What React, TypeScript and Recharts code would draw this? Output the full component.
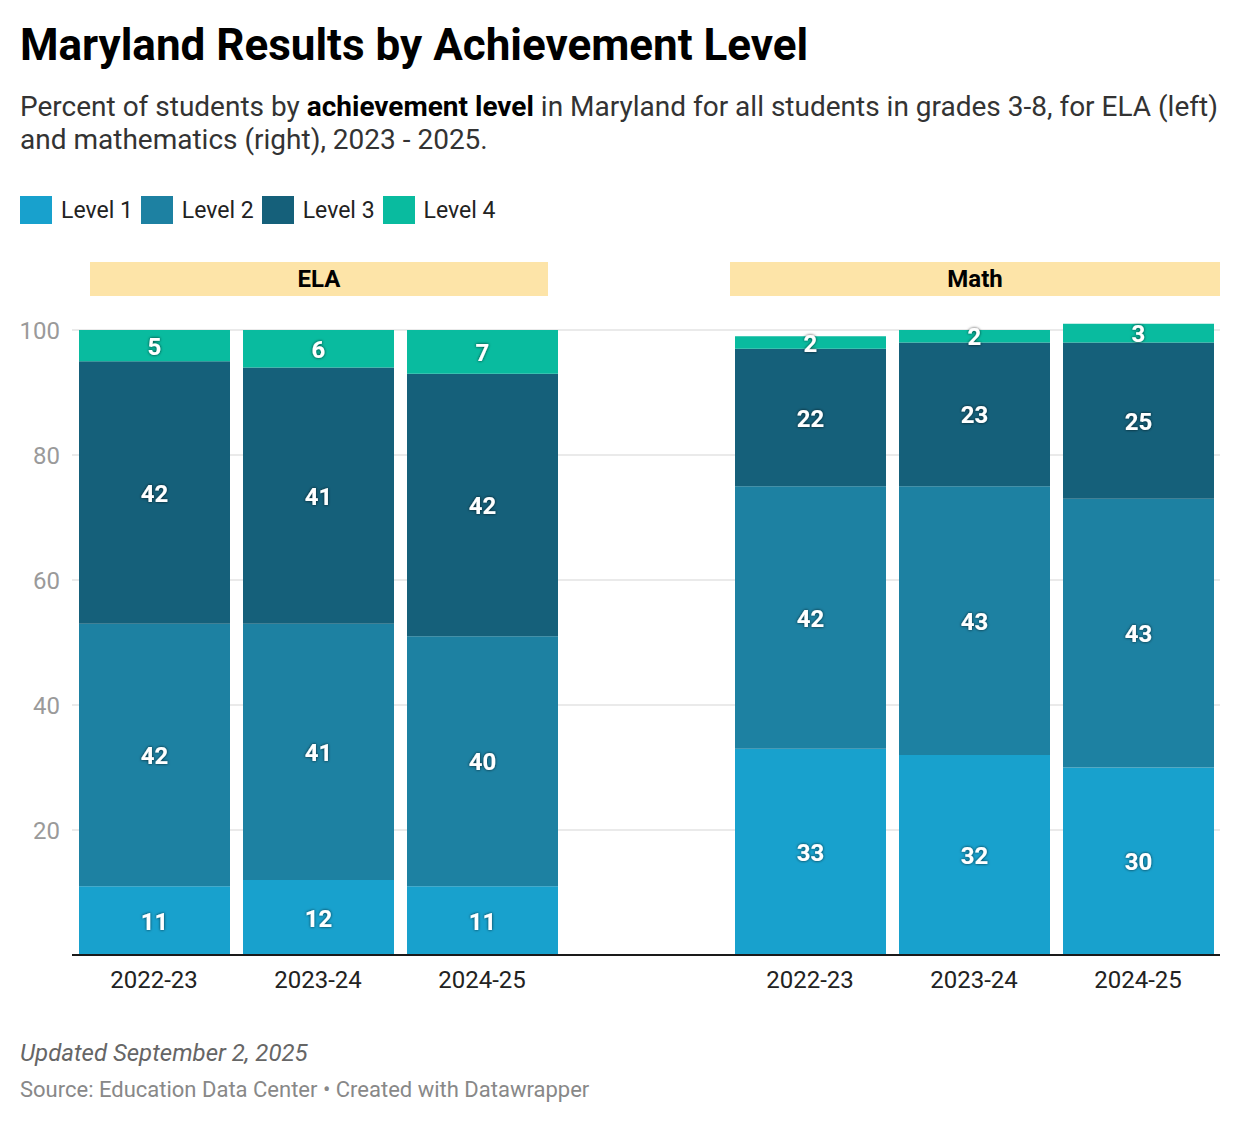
import React from "react";
import { BarChart, Bar, XAxis, YAxis, CartesianGrid, LabelList } from "recharts";

// school years shown in each panel
const years = ["2022-23", "2023-24", "2024-25"];

// percent of students by level, ELA panel
const elaLevel1 = [11, 12, 11];
const elaLevel2 = [42, 41, 40];
const elaLevel3 = [42, 41, 42];
const elaLevel4 = [5, 6, 7];

// percent of students by level, Math panel
const mathLevel1 = [33, 32, 30];
const mathLevel2 = [42, 43, 43];
const mathLevel3 = [22, 23, 25];
const mathLevel4 = [2, 2, 3];

const yTicks = [20, 40, 60, 80, 100];

const levels = [
  { key: "l1", name: "Level 1", color: "#18a1cd" },
  { key: "l2", name: "Level 2", color: "#1d81a2" },
  { key: "l3", name: "Level 3", color: "#15607a" },
  { key: "l4", name: "Level 4", color: "#09bb9f" },
];

type Row = { id: string; year: string; l1?: number; l2?: number; l3?: number; l4?: number };

const data: Row[] = [
  ...years.map((y, i) => ({ id: "ela-" + y, year: y, l1: elaLevel1[i], l2: elaLevel2[i], l3: elaLevel3[i], l4: elaLevel4[i] })),
  { id: "spacer", year: "" },
  ...years.map((y, i) => ({ id: "math-" + y, year: y, l1: mathLevel1[i], l2: mathLevel2[i], l3: mathLevel3[i], l4: mathLevel4[i] })),
];

const yearById: Record<string, string> = Object.fromEntries(data.map((d) => [d.id, d.year]));

const SegmentLabel = (props: any) => {
  const { x, y, width, height, value } = props;
  if (value == null) return null;
  return (
    <text
      x={x + width / 2}
      y={y + height / 2 + 1}
      textAnchor="middle"
      dominantBaseline="central"
      fill="#fff"
      fontSize={24}
      fontWeight={700}
      filter="url(#labelShadow)"
    >
      {value}
    </text>
  );
};

// skip the grid line that sits on the top edge of the plot (not a tick)
const GridLine = (p: any) => {
  if (Math.abs(p.y1 - p.y) < 1) return <g key={p.key} />;
  return <line key={p.key} x1={p.x1} x2={p.x2} y1={p.y1} y2={p.y2} stroke="#e3e3e3" strokeWidth={1.5} />;
};

const font = "Roboto, 'Noto Sans', sans-serif";

export default function App() {
  return (
    <div style={{ position: "absolute", left: 0, top: 0, width: 1240, height: 1124, background: "#fff", fontFamily: font, color: "#222" }}>
      <svg width={0} height={0} style={{ position: "absolute" }}>
        <defs>
          <filter id="labelShadow" x="-50%" y="-50%" width="200%" height="200%">
            <feDropShadow dx="0" dy="0" stdDeviation="1.6" floodColor="#000" floodOpacity="0.75" />
          </filter>
        </defs>
      </svg>

      <div style={{ position: "absolute", left: 20, top: 20, fontSize: 44, lineHeight: "50px", fontWeight: 700, color: "#000" }}>
        Maryland Results by Achievement Level
      </div>
      <div style={{ position: "absolute", left: 20, top: 90, width: 1215, fontSize: 28, lineHeight: "33px", color: "#333", whiteSpace: "nowrap" }}>
        Percent of students by <b style={{ color: "#000" }}>achievement level</b> in Maryland for all students in grades 3-8, for ELA (left)
        <br />
        and mathematics (right), 2023 - 2025.
      </div>

      <div style={{ position: "absolute", left: 20, top: 196, display: "flex", alignItems: "center", height: 28 }}>
        {levels.map((l) => (
          <div key={l.key} style={{ display: "flex", alignItems: "center", marginRight: 8 }}>
            <div style={{ width: 32, height: 28, background: l.color, marginRight: 9 }} />
            <span style={{ fontSize: 23, color: "#222" }}>{l.name}</span>
          </div>
        ))}
      </div>

      <div style={{ position: "absolute", left: 90, top: 262, width: 458, height: 34, background: "#fde4a8", textAlign: "center", lineHeight: "34px", fontSize: 24, fontWeight: 700, color: "#000" }}>
        ELA
      </div>
      <div style={{ position: "absolute", left: 730, top: 262, width: 490, height: 34, background: "#fde4a8", textAlign: "center", lineHeight: "34px", fontSize: 24, fontWeight: 700, color: "#000" }}>
        Math
      </div>

      <div style={{ position: "absolute", left: 0, top: 250 }}>
        <BarChart width={1240} height={760} data={data} margin={{ top: 48.75, right: 20, left: 0, bottom: 15 }} barSize={151}>
          <CartesianGrid vertical={false} horizontal={GridLine} />
          <YAxis
            type="number"
            domain={[0, 105]}
            ticks={yTicks}
            width={72}
            axisLine={false}
            tickLine={false}
            tickMargin={6}
            tick={{ fill: "#9a9a9a", fontSize: 24, fontFamily: font }}
            interval={0}
          />
          <XAxis
            dataKey="id"
            type="category"
            height={40}
            interval={0}
            tickFormatter={(v: string) => yearById[v] ?? ""}
            axisLine={{ stroke: "#1a1a1a", strokeWidth: 2 }}
            tickLine={false}
            tickMargin={10}
            tick={{ fill: "#222", fontSize: 24, fontFamily: font }}
          />
          {levels.map((l) => (
            <Bar key={l.key} dataKey={l.key} name={l.name} stackId="a" fill={l.color} isAnimationActive={false}>
              <LabelList dataKey={l.key} content={SegmentLabel} />
            </Bar>
          ))}
        </BarChart>
      </div>

      <div style={{ position: "absolute", left: 20, top: 1039, fontSize: 24, lineHeight: "28px", fontStyle: "italic", color: "#666" }}>
        Updated September 2, 2025
      </div>
      <div style={{ position: "absolute", left: 20, top: 1077, fontSize: 22, lineHeight: "26px", color: "#888" }}>
        Source: Education Data Center • Created with Datawrapper
      </div>
    </div>
  );
}
